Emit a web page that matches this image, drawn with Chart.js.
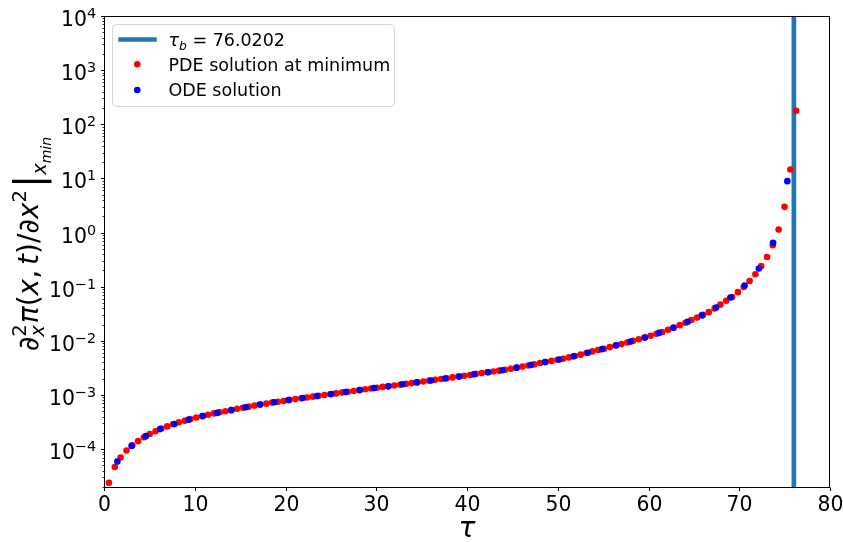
<!DOCTYPE html>
<html>
<head>
<meta charset="utf-8">
<script src="https://cdn.jsdelivr.net/npm/chart.js@4.4.1/dist/chart.umd.min.js"></script>
<style>
  html, body { margin: 0; padding: 0; background: #fff; }
  #wrap { width: 843px; height: 542px; position: relative; }
</style>
</head>
<body>
<div id="wrap"><canvas id="myChart"></canvas></div>
<script>
// values
const tauBlowup = 76.0202;

const pdeTau = [0.55, 1.19, 1.83, 2.48, 3.12, 3.76, 4.40, 5.04, 5.68, 6.33,
  6.97, 7.61, 8.25, 8.89, 9.53, 10.18, 10.82, 11.46, 12.10, 12.74,
  13.38, 14.03, 14.67, 15.31, 15.95, 16.59, 17.23, 17.88, 18.52, 19.16,
  19.80, 20.44, 21.08, 21.73, 22.37, 23.01, 23.65, 24.29, 24.93, 25.58,
  26.22, 26.86, 27.50, 28.14, 28.78, 29.43, 30.07, 30.71, 31.35, 31.99,
  32.64, 33.28, 33.92, 34.56, 35.20, 35.84, 36.49, 37.13, 37.77, 38.41,
  39.05, 39.69, 40.34, 40.98, 41.62, 42.26, 42.90, 43.54, 44.19, 44.83,
  45.47, 46.11, 46.75, 47.39, 48.04, 48.68, 49.32, 49.96, 50.60, 51.24,
  51.89, 52.53, 53.17, 53.81, 54.45, 55.09, 55.74, 56.38, 57.02, 57.66,
  58.30, 58.94, 59.59, 60.23, 60.87, 61.51, 62.15, 62.79, 63.44, 64.08,
  64.72, 65.36, 66.00, 66.64, 67.29, 67.93, 68.57, 69.21, 69.85, 70.49,
  71.14, 71.78, 72.42, 73.06, 73.70, 74.34, 74.99, 75.63, 76.27];

const pdeVal = [2.40e-5, 4.68e-5, 7.0e-5, 9.44e-5, 1.175e-4, 1.41e-4, 1.66e-4, 1.91e-4, 2.14e-4, 2.40e-4,
  2.63e-4, 2.88e-4, 3.13e-4, 3.35e-4, 3.59e-4, 3.85e-4, 4.07e-4, 4.32e-4, 4.57e-4, 4.79e-4,
  5.01e-4, 5.25e-4, 5.56e-4, 5.82e-4, 6.10e-4, 6.38e-4, 6.68e-4, 6.92e-4, 7.24e-4, 7.50e-4,
  7.76e-4, 8.13e-4, 8.41e-4, 8.71e-4, 9.02e-4, 9.33e-4, 9.66e-4, 1.0e-3, 1.035e-3, 1.072e-3,
  1.109e-3, 1.148e-3, 1.189e-3, 1.23e-3, 1.274e-3, 1.318e-3, 1.365e-3, 1.413e-3, 1.445e-3, 1.496e-3,
  1.549e-3, 1.603e-3, 1.66e-3, 1.718e-3, 1.778e-3, 1.841e-3, 1.905e-3, 1.972e-3, 2.042e-3, 2.113e-3,
  2.188e-3, 2.265e-3, 2.344e-3, 2.455e-3, 2.541e-3, 2.63e-3, 2.723e-3, 2.818e-3, 2.917e-3, 3.055e-3,
  3.199e-3, 3.35e-3, 3.508e-3, 3.673e-3, 3.89e-3, 4.074e-3, 4.266e-3, 4.467e-3, 4.677e-3, 4.955e-3,
  5.248e-3, 5.559e-3, 5.957e-3, 6.383e-3, 6.761e-3, 7.161e-3, 7.674e-3, 8.222e-3, 8.71e-3, 9.333e-3,
  1.0e-2, 1.072e-2, 1.148e-2, 1.245e-2, 1.349e-2, 1.462e-2, 1.603e-2, 1.758e-2, 1.95e-2, 2.163e-2,
  2.427e-2, 2.692e-2, 3.02e-2, 3.388e-2, 3.981e-2, 4.677e-2, 5.495e-2, 6.457e-2, 7.943e-2, 9.886e-2,
  0.1274, 0.1698, 0.2399, 0.3548, 0.582, 1.135, 2.985, 14.62, 177.8];

const odeTau = [1.47, 3.04, 4.61, 6.18, 7.75, 9.33, 10.90, 12.47, 14.04, 15.61,
  17.18, 18.75, 20.32, 21.89, 23.46, 25.04, 26.61, 28.18, 29.75, 31.32,
  32.89, 34.46, 36.03, 37.60, 39.17, 40.75, 42.32, 43.89, 45.46, 47.03,
  48.60, 50.17, 51.74, 53.31, 54.88, 56.45, 58.02, 59.60, 61.17, 62.74,
  64.31, 65.88, 67.45, 69.02, 70.59, 72.16, 73.73, 75.30];

const odeVal = [5.89e-5, 1.148e-4, 1.738e-4, 2.344e-4, 2.917e-4, 3.508e-4, 4.10e-4, 4.677e-4, 5.248e-4, 5.94e-4,
  6.65e-4, 7.33e-4, 8.05e-4, 8.79e-4, 9.55e-4, 1.04e-3, 1.132e-3, 1.233e-3, 1.343e-3, 1.445e-3,
  1.578e-3, 1.71e-3, 1.858e-3, 2.023e-3, 2.203e-3, 2.415e-3, 2.636e-3, 2.871e-3, 3.2e-3, 3.58e-3,
  4.055e-3, 4.54e-3, 5.176e-3, 6.05e-3, 7.03e-3, 8.28e-3, 9.70e-3, 1.148e-2, 1.403e-2, 1.746e-2,
  2.254e-2, 2.951e-2, 4.14e-2, 6.31e-2, 0.1052, 0.2168, 0.6457, 8.913];

const xTicks = [0, 10, 20, 30, 40, 50, 60, 70, 80];
const yDecades = [-4, -3, -2, -1, 0, 1, 2, 3, 4];

const legendLabels = ['PDE solution at minimum', 'ODE solution'];

const FAMILY = '"DejaVu Sans", sans-serif';
function font(size, italic) {
  return (italic ? 'italic ' : '') + size + 'px ' + FAMILY;
}

// draws a row of text pieces (sub/superscripts), returns its width
function drawMath(ctx, parts, x, y, draw) {
  let cx = x, hold = 0;
  parts.forEach(p => {
    ctx.font = font(p.s, p.it);
    const w = ctx.measureText(p.t).width;
    if (draw) ctx.fillText(p.t, cx, y + (p.dy || 0));
    if (p.stack) {
      hold = w;
    } else {
      cx += Math.max(w, hold) + (p.gap || 0);
      hold = 0;
    }
  });
  return cx - x;
}

const decorations = {
  id: 'decorations',
  afterDraw(chart) {
    const ctx = chart.ctx;
    const a = chart.chartArea;
    const xs = chart.scales.x, ys = chart.scales.y;
    ctx.save();
    ctx.fillStyle = '#000';
    ctx.strokeStyle = '#000';

    // frame
    ctx.lineWidth = 1;
    const L = Math.round(a.left) + 0.5, T = Math.round(a.top) + 0.5;
    const R = Math.round(a.right) - 0.5, B = Math.round(a.bottom) + 0.5;
    ctx.strokeRect(L, T, R - L, B - T);

    // x ticks + labels
    ctx.textAlign = 'center';
    ctx.textBaseline = 'alphabetic';
    ctx.font = font(20.4);
    xTicks.forEach(v => {
      const px = Math.round(xs.getPixelForValue(v)) + 0.5;
      ctx.beginPath();
      ctx.moveTo(px, B);
      ctx.lineTo(px, B + 3.5);
      ctx.stroke();
      ctx.fillText(String(v), px, a.bottom + 24);
    });

    // y ticks (major + minor) and labels
    ctx.textAlign = 'left';
    yDecades.forEach(d => {
      const py = Math.round(ys.getPixelForValue(Math.pow(10, d))) + 0.5;
      ctx.beginPath();
      ctx.moveTo(L - 3.5, py);
      ctx.lineTo(L, py);
      ctx.stroke();
      const expTxt = d < 0 ? '\u2212' + Math.abs(d) : String(d);
      ctx.font = font(14.3);
      const ew = ctx.measureText(expTxt).width;
      ctx.font = font(20.4);
      const bw = ctx.measureText('10').width;
      const right = a.left - 8;
      ctx.fillText('10', right - ew - bw, py + 9);
      ctx.font = font(14.3);
      ctx.fillText(expTxt, right - ew, py + 1);
    });
    ctx.lineWidth = 0.8;
    for (let d = -5; d < 4; d++) {
      for (let m = 2; m <= 9; m++) {
        const v = m * Math.pow(10, d);
        if (v < ys.min || v > ys.max) continue;
        const py = Math.round(ys.getPixelForValue(v)) + 0.5;
        ctx.beginPath();
        ctx.moveTo(L - 2, py);
        ctx.lineTo(L, py);
        ctx.stroke();
      }
    }

    // x axis title
    ctx.textAlign = 'center';
    ctx.font = font(28, true);
    ctx.fillText('\u03c4', (a.left + a.right) / 2, 537);

    // y axis title, rotated
    const F = 28, S = F * 0.7, SS = F * 0.5;
    const yParts = [
      { t: '\u2202', s: F },
      { t: '2', s: S, dy: -0.42 * F, stack: true },
      { t: 'x', s: S, it: true, dy: 0.2 * F, gap: 1 },
      { t: '\u03c0', s: F, it: true },
      { t: '(', s: F },
      { t: 'x', s: F, it: true },
      { t: ',', s: F, gap: 5 },
      { t: 't', s: F, it: true },
      { t: ')', s: F },
      { t: '/', s: F },
      { t: '\u2202', s: F },
      { t: 'x', s: F, it: true },
      { t: '2', s: S, dy: -0.42 * F, gap: 2 },
      { t: '|', s: F * 1.4, dy: 0.14 * F },
      { t: 'x', s: S, it: true, dy: 0.3 * F },
      { t: 'min', s: SS, it: true, dy: 0.45 * F }
    ];
    ctx.textAlign = 'left';
    const lw = drawMath(ctx, yParts, 0, 0, false);
    ctx.save();
    ctx.translate(38, 244);
    ctx.rotate(-Math.PI / 2);
    drawMath(ctx, yParts, -lw / 2, 0, true);
    ctx.restore();

    // legend
    const lx = 112.5, ly = 24.5, lwid = 282, lh = 82;
    ctx.beginPath();
    ctx.roundRect(lx, ly, lwid, lh, 4);
    ctx.fillStyle = 'rgba(255,255,255,0.8)';
    ctx.fill();
    ctx.strokeStyle = 'rgba(204,204,204,0.8)';
    ctx.lineWidth = 1;
    ctx.stroke();

    ctx.strokeStyle = '#1f77b4';
    ctx.lineWidth = 4.7;
    ctx.beginPath();
    ctx.moveTo(118.3, 39.5);
    ctx.lineTo(156.7, 39.5);
    ctx.stroke();

    ctx.fillStyle = '#000';
    drawMath(ctx, [
      { t: '\u03c4', s: 17.5, it: true },
      { t: 'b', s: 12.3, it: true, dy: 4 },
      { t: ' = 76.0202', s: 17.5 }
    ], 168.5, 45.5, true);

    ctx.font = font(17.5);
    ctx.fillText(legendLabels[0], 168.5, 70.5);
    ctx.fillText(legendLabels[1], 168.5, 96);

    ctx.fillStyle = 'red';
    ctx.beginPath();
    ctx.arc(137.3, 64.3, 3.3, 0, Math.PI * 2);
    ctx.fill();
    ctx.fillStyle = 'blue';
    ctx.beginPath();
    ctx.arc(137.3, 90, 3.3, 0, Math.PI * 2);
    ctx.fill();

    ctx.restore();
  }
};

function initChart(target) {
  const pdePoints = pdeTau.map((t, i) => ({ x: t, y: pdeVal[i] }));
  const odePoints = odeTau.map((t, i) => ({ x: t, y: odeVal[i] }));
  return new Chart(target, {
    type: 'scatter',
    data: {
      datasets: [
        {
          type: 'line',
          label: 'tau_b',
          data: [{ x: tauBlowup, y: 1e-6 }, { x: tauBlowup, y: 1e6 }],
          borderColor: '#1f77b4',
          borderWidth: 4.7,
          pointRadius: 0,
          clip: 0,
          order: 3
        },
        {
          label: legendLabels[0],
          data: pdePoints,
          pointRadius: 3.3,
          pointBackgroundColor: 'red',
          pointBorderWidth: 0,
          order: 2
        },
        {
          label: legendLabels[1],
          data: odePoints,
          pointRadius: 3.3,
          pointBackgroundColor: 'blue',
          pointBorderWidth: 0,
          order: 1
        }
      ]
    },
    options: {
      responsive: true,
      maintainAspectRatio: false,
      animation: false,
      events: [],
      layout: { padding: { left: 104, right: 13, top: 16, bottom: 55 } },
      plugins: { legend: { display: false }, tooltip: { enabled: false } },
      scales: {
        x: { type: 'linear', min: 0, max: 80, display: false },
        y: { type: 'logarithmic', min: 2e-5, max: 1e4, display: false }
      }
    },
    plugins: [decorations]
  });
}

document.addEventListener('DOMContentLoaded', () => {
  initChart(document.querySelector('#myChart'));
});
</script>
</body>
</html>
